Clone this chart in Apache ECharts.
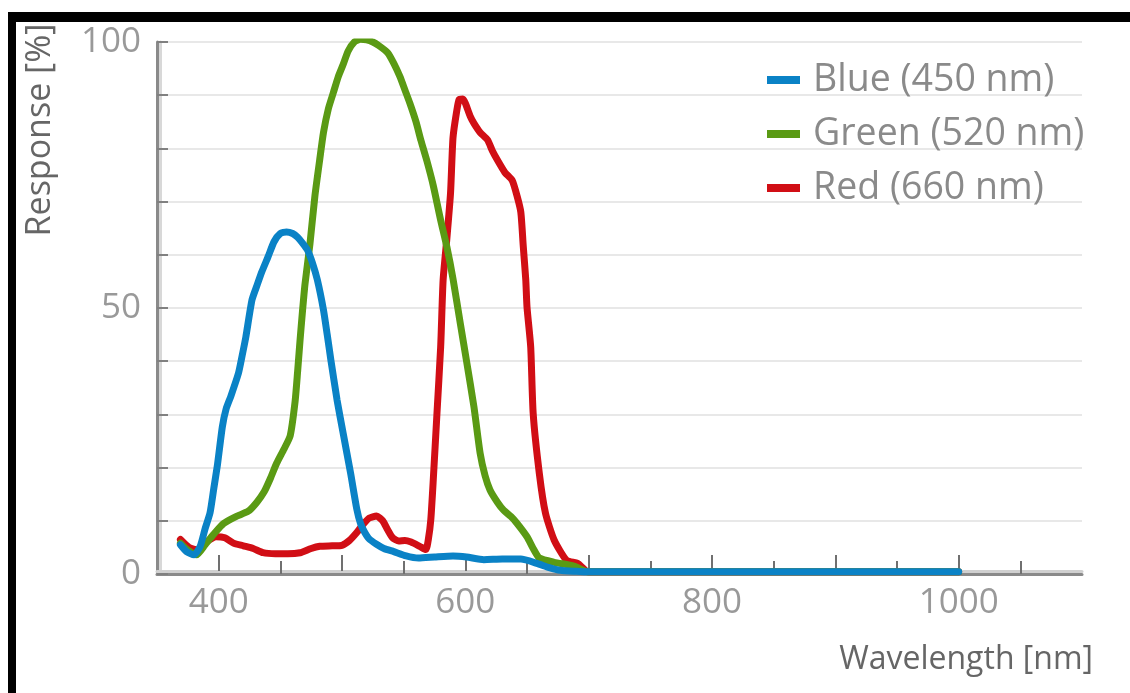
<!DOCTYPE html>
<html>
<head>
<meta charset="utf-8">
<title>Spectral response</title>
<script src="https://cdn.jsdelivr.net/npm/echarts@6/dist/echarts.min.js"></script>
<style>
  html, body { margin: 0; padding: 0; background: #fff; }
  #chart { width: 1130px; height: 693px; }
</style>
</head>
<body>
<div id="chart"></div>
<script>
// [wavelength nm, response %]
const blue = [
  [369, 5.5], [374, 4.2], [380, 3.6], [385, 5.2], [389, 8.5], [393, 11.5], [396, 16], [399, 20.5],
  [403, 27.7], [406, 31], [410, 33.5], [416, 37.7], [419, 41], [422, 44.5], [427, 51.5], [431, 54.2],
  [435, 56.8], [440, 59.6], [445, 62.5], [450, 64], [455, 64.3], [460, 64], [464, 63.3], [468, 62.2],
  [472, 60.9], [476, 58.5], [480, 55.3], [485, 49.6], [488, 45], [491, 40.2], [496, 32.7], [501, 26.4],
  [507, 18.9], [512, 12.2], [515, 9.5], [518, 8], [522, 6.6], [528, 5.6], [534, 4.8], [542, 4.2],
  [552, 3.4], [562, 3], [575, 3.2], [590, 3.4], [601, 3.2], [615, 2.7], [630, 2.8], [645, 2.8],
  [658, 2], [668, 1.2], [677, 0.7], [690, 0.5], [700, 0.4], [1000, 0.4]
];
const green = [
  [369, 5.8], [375, 4.5], [382, 3.6], [389, 5.5], [396, 7.5], [404, 9.5], [414, 10.8], [424, 11.8],
  [431, 13.5], [437, 15.5], [442, 18], [447, 20.8], [453, 23.5], [458, 26], [462, 32.5], [464, 38],
  [466, 44], [468, 49.5], [470, 54.5], [474, 62], [478, 71], [482, 78], [485, 83], [489, 87.5],
  [493, 90.5], [497, 93.5], [501, 95.8], [505, 98.3], [510, 100], [515, 100.5], [520, 100.4], [525, 100],
  [530, 99.3], [537, 98], [542, 96], [547, 93.5], [551, 91], [555, 88.5], [560, 85], [564, 81.5],
  [569, 77.5], [574, 73], [580, 66.5], [585, 61.5], [590, 55.5], [596, 47], [601, 40], [607, 31.4],
  [612, 22.7], [616, 18.5], [620, 15.8], [626, 13.5], [631, 12], [637, 10.8], [642, 9.5], [650, 7],
  [655, 4.8], [660, 3], [672, 2.2], [688, 1.5], [700, 0.4], [1000, 0.4]
];
const red = [
  [369, 6.5], [376, 5], [383, 4.5], [390, 6], [398, 7], [405, 6.8], [412, 5.8], [420, 5.3],
  [428, 4.8], [436, 4], [446, 3.8], [456, 3.8], [466, 4], [475, 4.8], [482, 5.2], [492, 5.3],
  [500, 5.4], [506, 6.3], [512, 7.8], [517, 9.3], [522, 10.5], [528, 10.9], [533, 10], [537, 8.3],
  [541, 6.8], [546, 6.2], [551, 6.3], [556, 6], [563, 5.2], [568, 4.6], [570, 6.5], [572, 10.2],
  [574, 17.7], [577, 30.2], [580, 42.7], [582, 55.3], [585, 63], [588, 71.6], [590, 82], [593, 87],
  [595, 89.2], [598, 89.3], [600, 88.5], [604, 86], [607, 84.7], [612, 83], [618, 81.6], [622, 79.5],
  [626, 77.8], [632, 75.5], [638, 74], [642, 71], [645, 68], [647, 61.5], [649, 55.3], [650, 50.2],
  [653, 42.7], [655, 30.2], [660, 18.9], [665, 11.4], [672, 6.4], [682, 2.6], [691, 2], [700, 0.4],
  [1000, 0.4]
];

const seriesNames = ['Blue (450 nm)', 'Green (520 nm)', 'Red (660 nm)'];
const seriesColors = ['#0a82c6', '#5a9a14', '#d10e15'];

const xLabels = [400, 600, 800, 1000];
const xMajorTicks = [400, 500, 600, 700, 800, 900, 1000];
const xMinorTicks = [450, 550, 650, 750, 850, 950, 1050];
const yLabels = [0, 50, 100];

const FONT = "'Open Sans', 'Noto Sans', sans-serif";

const chart = echarts.init(document.getElementById('chart'));

let series = [];
[blue, green, red].forEach((data, i) => {
  series.push({
    name: seriesNames[i],
    type: 'line',
    data: data,
    showSymbol: false,
    smooth: 0.2,
    z: 5 - i,
    color: seriesColors[i],
    lineStyle: { width: 7, color: seriesColors[i], join: 'round', cap: 'round' }
  });
});

const option = {
  animation: false,
  backgroundColor: '#fff',
  grid: { left: 157, right: 48, top: 42, bottom: 119 },
  legend: {
    orient: 'vertical',
    left: 762,
    top: 56,
    icon: 'rect',
    itemWidth: 33,
    itemHeight: 8,
    itemGap: 16,
    textStyle: { fontFamily: FONT, fontSize: 37.5, color: '#8a8a8a', padding: [0, 0, 26, 8] }
  },
  xAxis: [{
    type: 'value',
    position: 'bottom',
    min: 350,
    max: 1100,
    interval: 50,
    axisLine: { lineStyle: { color: '#8a8a8a', width: 3 } },
    axisTick: { inside: true, length: 13, customValues: xMinorTicks, lineStyle: { color: '#707070', width: 2 } },
    axisLabel: {
      customValues: xLabels, fontFamily: FONT, fontSize: 35, color: '#999', margin: 12,
      formatter: v => String(v)
    },
    splitLine: { show: false }
  }, {
    type: 'value',
    position: 'bottom',
    min: 350,
    max: 1100,
    interval: 50,
    offset: -3,
    axisLine: { lineStyle: { color: '#d0d0d0', width: 3 } },
    axisTick: { inside: true, length: 16, customValues: xMajorTicks, lineStyle: { color: '#707070', width: 2 } },
    axisLabel: { show: false },
    splitLine: { show: false }
  }],
  yAxis: [{
    type: 'value',
    position: 'left',
    min: 0,
    max: 100,
    interval: 10,
    axisLine: { show: true, lineStyle: { color: '#8a8a8a', width: 3 } },
    axisTick: { show: true, inside: true, length: 11, lineStyle: { color: '#808080', width: 2 } },
    axisLabel: {
      fontFamily: FONT, fontSize: 35, color: '#999', margin: 16,
      formatter: v => yLabels.includes(v) ? String(v) : ''
    },
    splitLine: { lineStyle: { color: '#e8e8e8', width: 2 } }
  }, {
    type: 'value',
    position: 'left',
    min: 0,
    max: 100,
    interval: 10,
    offset: -3,
    axisLine: { show: true, lineStyle: { color: '#d8d8d8', width: 3 } },
    axisTick: { show: false },
    axisLabel: { show: false },
    splitLine: { show: false }
  }],
  graphic: [
    { type: 'rect', shape: { x: 8, y: 12, width: 1122, height: 10 }, style: { fill: '#000' } },
    { type: 'rect', shape: { x: 8, y: 12, width: 8, height: 681 }, style: { fill: '#000' } },
    {
      type: 'text', x: 40, y: 130, rotation: Math.PI / 2,
      style: { text: 'Response [%]', fontFamily: FONT, fontSize: 34, fill: '#666', align: 'center', verticalAlign: 'middle' }
    },
    {
      type: 'text', x: 1093, y: 660,
      style: { text: 'Wavelength [nm]', fontFamily: FONT, fontSize: 32, fill: '#666', align: 'right', verticalAlign: 'middle' }
    }
  ],
  series: series
};

chart.setOption(option);
</script>
</body>
</html>
